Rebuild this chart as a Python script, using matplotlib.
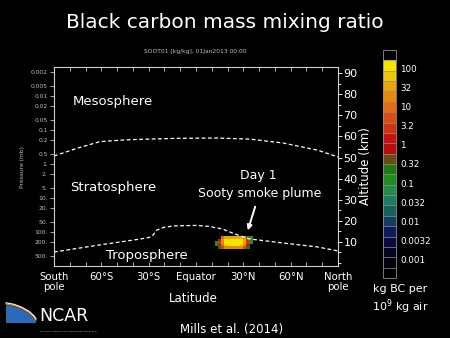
import numpy as np
import matplotlib
matplotlib.use('Agg')
import matplotlib.pyplot as plt
from matplotlib.colors import ListedColormap, BoundaryNorm
from matplotlib.patches import Polygon, FancyArrowPatch
from matplotlib.ticker import NullLocator, MultipleLocator

W, H = 450, 338

# stratopause and tropopause, (latitude deg, pressure mb)
strat_lat = [-90, -75, -61, -45, -29, -10, 13, 34, 55, 77, 90]
strat_p = [0.58, 0.34, 0.22, 0.195, 0.184, 0.175, 0.172, 0.185, 0.24, 0.39, 0.62]
trop_lat = [-90, -61, -35, -29, -27, -25, -20, -13, 0, 8, 17, 23, 30, 34, 55, 77, 90]
trop_p = [388, 240, 160, 142, 120, 88, 72, 66, 64, 68, 82, 107, 140, 160, 210, 275, 360]

# soot plume, log10(kg BC per 1e9 kg air) on a lat x pressure grid
plume_lat_edges = [12, 14, 16, 18, 20, 22, 24, 26, 28, 30, 32, 34, 36]
plume_p_edges = [135, 160, 190, 225, 265, 320]
nan = np.nan
plume_log = np.array([
    [nan, nan, 0.9, 1.4, 1.5, 1.5, 1.5, 1.5, 1.4, 1.2, -0.6, -0.8],
    [nan, 0.3, 1.2, 2.0, 2.1, 2.1, 2.1, 2.1, 2.0, 1.4, 0.4, -0.8],
    [-0.8, 0.4, 1.3, 2.1, 2.1, 2.1, 2.1, 2.1, 2.0, 1.4, 0.5, -0.8],
    [-0.8, 0.3, 1.1, 1.9, 2.0, 2.0, 2.0, 2.0, 1.9, 1.2, 0.3, nan],
    [nan, -0.6, 0.6, 1.2, 1.2, 1.2, 1.2, 1.2, 1.2, 0.8, -0.7, nan],
])

# colour bar segments, top to bottom
seg_colors = ['#000000', '#f5e400', '#f0c60a', '#eaa50c', '#e58a10', '#e06c14',
              '#d94e14', '#d03214', '#c81212', '#b80e0e', '#6a4a12', '#1f7a14',
              '#1f8c24', '#208e48', '#1b7e64', '#16605f', '#123f5e', '#0f1c5c',
              '#0a0a3c', '#05051e', '#020210', '#000000']
cbar_values = [100, 32, 10, 3.2, 1, 0.32, 0.1, 0.032, 0.01, 0.0032, 0.001]
cbar_labels = ['100', '32', '10', '3.2', '1', '0.32', '0.1', '0.032', '0.01', '0.0032', '0.001']

p_ticks = [0.002, 0.005, 0.01, 0.02, 0.05, 0.1, 0.2, 0.5, 1, 2, 5, 10, 20, 50, 100, 200, 500]
p_labels = ['0.002', '0.005', '0.01', '0.02', '0.05', '0.1', '0.2', '0.5', '1.', '2.', '5.',
            '10.', '20.', '50.', '100.', '200.', '500.']
alt_ticks = [10, 20, 30, 40, 50, 60, 70, 80, 90]
lat_ticks = [-90, -60, -30, 0, 30, 60, 90]
lat_labels = ['South\npole', '60°S', '30°S', 'Equator', '30°N', '60°N', 'North\npole']


def ftext(fig, x, y, s, **kw):
    kw.setdefault('color', 'white')
    kw.setdefault('ha', 'center')
    kw.setdefault('va', 'center')
    return fig.text(x / W, 1 - y / H, s, **kw)


def fxy(x, y):
    return (x / W, 1 - y / H)


def main():
    plt.rcParams['font.family'] = ['DejaVu Sans']
    fig = plt.figure(figsize=(4.5, 3.38), dpi=100, facecolor='black')

    ax = fig.add_axes([54 / W, 1 - 266 / H, 284 / W, 199 / H])
    ax.set_facecolor('black')

    cmap = ListedColormap(seg_colors[::-1])
    levels = np.linspace(-3.47, 2.47, len(seg_colors) + 1)
    norm = BoundaryNorm(levels, cmap.N)

    mesh = ax.pcolormesh(plume_lat_edges, plume_p_edges, np.ma.masked_invalid(plume_log),
                         cmap=cmap, norm=norm, shading='flat')
    ax.plot(strat_lat, strat_p, color='white', lw=0.9, ls=(0, (3, 2)))
    ax.plot(trop_lat, trop_p, color='white', lw=0.9, ls=(0, (3, 2)))

    ax.set_yscale('log')
    ax.set_ylim(1000, 0.0014)
    ax.set_xlim(-90, 90)
    ax.set_yticks(p_ticks)
    ax.set_yticklabels(p_labels)
    ax.yaxis.set_minor_locator(NullLocator())
    ax.tick_params(axis='y', colors='#c0c0c0', labelsize=4.3, length=3, width=0.6, pad=1.5)
    ax.set_xticks(lat_ticks)
    ax.set_xticklabels(lat_labels)
    ax.xaxis.set_minor_locator(MultipleLocator(10))
    ax.tick_params(axis='x', which='both', direction='in', top=True, color='#d0d0d0',
                   labelcolor='white', labelsize=7.3, length=3, width=0.6, pad=4)
    for lbl in ax.get_xticklabels():
        lbl.set_linespacing(1.1)
    for sp in ax.spines.values():
        sp.set_color('#d0d0d0')
        sp.set_linewidth(0.8)
    ax.set_ylabel('Pressure (mb)', color='#c0c0c0', fontsize=4.3, labelpad=4)

    ax2 = ax.twinx()
    ax2.set_ylim(-1.5, 93)
    ax2.set_yticks(alt_ticks)
    ax2.yaxis.set_minor_locator(MultipleLocator(5))
    ax2.tick_params(axis='y', which='both', colors='white', labelsize=8, length=3, width=0.6, pad=1)
    ax2.tick_params(axis='y', which='minor', length=2)
    for sp in ax2.spines.values():
        sp.set_visible(False)
    ax2.set_ylabel('Altitude (km)', color='white', fontsize=8.5, labelpad=1)

    # colour bar
    cax = fig.add_axes([383 / W, 1 - 278 / H, 13 / W, 228 / H])
    cb = fig.colorbar(mesh, cax=cax, drawedges=True)
    cb.outline.set_edgecolor('#909090')
    cb.outline.set_linewidth(0.6)
    cb.dividers.set_color('#909090')
    cb.dividers.set_linewidth(0.5)
    cb.set_ticks(np.log10(cbar_values))
    cb.set_ticklabels(cbar_labels)
    cax.tick_params(length=0, labelsize=6.3, labelcolor='white', pad=3)
    cax.yaxis.set_minor_locator(NullLocator())

    # texts
    ftext(fig, 225, 23, 'Black carbon mass mixing ratio', fontsize=14.5)
    ftext(fig, 195, 52, 'SOOT01 [kg/kg], 01Jan2013 00:00', fontsize=4.3, color='#c0c0c0')
    ftext(fig, 113, 101, 'Mesosphere', fontsize=9.5)
    ftext(fig, 113, 188, 'Stratosphere', fontsize=9.5)
    ftext(fig, 147, 255, 'Troposphere', fontsize=9.5)
    ftext(fig, 258, 175, 'Day 1', fontsize=9)
    ftext(fig, 260, 193, 'Sooty smoke plume', fontsize=9)
    ftext(fig, 193, 299, 'Latitude', fontsize=8.5)
    ftext(fig, 400, 300, 'kg BC per\n10$^9$ kg air', fontsize=8, linespacing=1.2)
    ftext(fig, 232, 329, 'Mills et al. (2014)', fontsize=8.5)

    fig.add_artist(FancyArrowPatch(fxy(256, 204), fxy(247, 233), transform=fig.transFigure,
                                   arrowstyle='-|>', mutation_scale=7, color='white', lw=1.4))

    # NCAR logo
    arc = [(6, 305), (14, 306.5), (22, 309.5), (29, 313.5), (34, 318), (36, 321)]
    blue = [fxy(x, y) for x, y in arc] + [fxy(36, 323), fxy(6, 323)]
    fig.add_artist(Polygon(blue, closed=True, transform=fig.transFigure,
                           facecolor='#2a6ab8', edgecolor='none'))
    fig.add_artist(plt.Line2D([fxy(x, y)[0] for x, y in arc], [fxy(x, y - 1)[1] for x, y in arc],
                              transform=fig.transFigure, color='#f08a20', lw=0.9))
    fig.add_artist(plt.Line2D([fxy(x, y)[0] for x, y in arc], [fxy(x, y - 2.2)[1] for x, y in arc],
                              transform=fig.transFigure, color='white', lw=0.8))
    ftext(fig, 39, 316, 'NCAR', fontsize=12.5, ha='left')
    ftext(fig, 40, 331, 'NATIONAL CENTER FOR ATMOSPHERIC RESEARCH', fontsize=1.6,
          ha='left', color='#c0c0c0')

    fig.savefig('out.png', dpi=100, facecolor='black')
    return 0


if __name__ == '__main__':
    raise SystemExit(main())
